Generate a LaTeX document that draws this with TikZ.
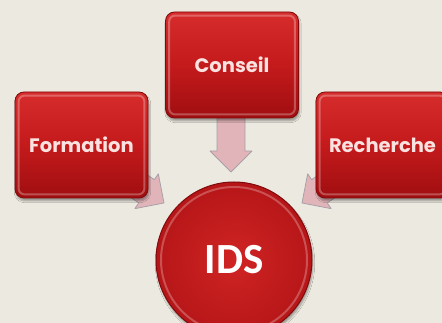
\documentclass[tikz,border=0pt]{standalone}
\usepackage{fontspec}
\newfontfamily\boxfont{Poppins}[UprightFont=* Bold]
\newfontfamily\hubfont{Carlito}[UprightFont=* Bold]
\usetikzlibrary{shadows.blur,calc}

\definecolor{paper}{RGB}{236,234,224}
\definecolor{redtop}{RGB}{214,44,44}
\definecolor{redmid}{RGB}{196,26,28}
\definecolor{redbot}{RGB}{160,14,16}
\definecolor{redrim}{RGB}{128,10,12}
\definecolor{hubin}{RGB}{208,36,36}
\definecolor{hubout}{RGB}{182,22,24}
\definecolor{labelpink}{RGB}{250,226,224}
\definecolor{arrowfill}{RGB}{224,180,184}
\definecolor{arrowedge}{RGB}{170,160,168}

\tikzset{
  redbox/.style={
    draw=redrim, line width=0.8pt, rounded corners=9pt,
    minimum width=133pt, minimum height=106pt,
    top color=redtop, bottom color=redbot, middle color=redmid,
    blur shadow={shadow xshift=1pt, shadow yshift=-3pt, shadow opacity=35, shadow blur steps=6},
    text=labelpink, font=\boxfont\fontsize{19.5}{22}\selectfont
  },
  hub/.style={
    circle, draw=redrim, line width=1pt, minimum size=156pt,
    inner color=hubin, outer color=hubout,
    blur shadow={shadow xshift=1pt, shadow yshift=-3pt, shadow opacity=35, shadow blur steps=6},
    text=white, font=\hubfont\fontsize{43}{48}\selectfont
  },
  gloss/.style={draw=white, draw opacity=0.28, line width=2pt, rounded corners=6pt},
  blockarrow/.style={fill=arrowfill, draw=arrowedge, line width=0.8pt, line join=round},
  % block arrow, tip at the origin pointing along +x
  fatarrow/.pic={
    \path[blockarrow] (0,0) -- (-\arrowhead,\arrowbarb) -- (-\arrowhead,\arrowshaft)
      -- (-\arrowlen,\arrowshaft) -- (-\arrowlen,-\arrowshaft)
      -- (-\arrowhead,-\arrowshaft) -- (-\arrowhead,-\arrowbarb) -- cycle;
  }
}
\newcommand\arrowhead{21pt}
\newcommand\arrowbarb{21pt}
\newcommand\arrowshaft{14pt}
\newcommand\arrowlen{70pt}

\begin{document}
\begin{tikzpicture}[x=1pt,y=1pt]
  \useasboundingbox (0,0) rectangle (442,323);
  \clip (0,0) rectangle (442,323);
  \fill[paper] (0,0) rectangle (442,323);

  % arrow tips
  \coordinate (tipC) at (231,151);
  \coordinate (tipF) at (164,120);
  \coordinate (tipR) at (302,120);

  % block arrows sit behind the boxes
  \pic[rotate=-90] at (tipC) {fatarrow};
  \pic[rotate=-34] at (tipF) {fatarrow};
  \pic[rotate=-146] at (tipR) {fatarrow};

  % the three source boxes
  \node[redbox] (conseil)   at (232,258)   {Conseil};
  \node[redbox] (formation) at (81.5,178)  {Formation};
  \node[redbox] (recherche) at (382.5,178) {Recherche};

  % glossy inner edge of each box
  \foreach \b in {conseil,formation,recherche}{
    \draw[gloss] ($(\b.south west)+(4,4)$) rectangle ($(\b.north east)+(-4,-4)$);
  }

  % central circle
  \node[hub] (ids) at (234,63) {IDS};
  \draw[draw=white, draw opacity=0.25, line width=2pt] (ids.center) circle (73pt);
\end{tikzpicture}
\end{document}
